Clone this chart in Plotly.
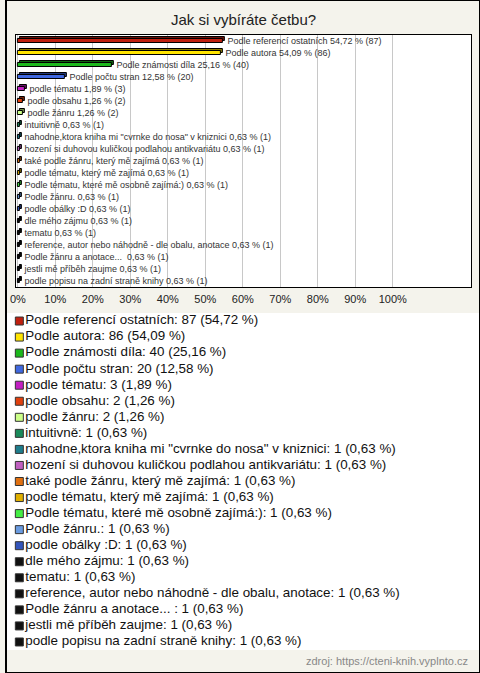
import plotly.graph_objects as go

TOTAL = 159
categories = [
    "Podle referencí ostatních",
    "Podle autora",
    "Podle známosti díla",
    "Podle počtu stran",
    "podle tématu",
    "podle obsahu",
    "podle žánru",
    "intuitivně",
    "nahodne,ktora kniha mi \"cvrnke do nosa\" v kniznici",
    "hození si duhovou kuličkou podlahou antikvariátu",
    "také podle žánru, který mě zajímá",
    "podle tématu, který mě zajímá",
    "Podle tématu, které mě osobně zajímá:)",
    "Podle žánru.",
    "podle obálky :D",
    "dle mého zájmu",
    "tematu",
    "reference, autor nebo náhodně - dle obalu, anotace",
    "Podle žánru a anotace... ",
    "jestli mě příběh zaujme",
    "podle popisu na zadní straně knihy",
]
counts = [87, 86, 40, 20, 3, 2, 2, 1, 1, 1, 1, 1, 1, 1, 1, 1, 1, 1, 1, 1, 1]
colors = [
    "#c0200f", "#ffe400", "#1cb81c", "#3f68e0", "#c21fc2", "#e0400e", "#ccff88",
    "#1a8a5a", "#1e7d8c", "#c060c0", "#e07010", "#e0b000", "#44ee44", "#6a9be0",
    "#3355bb", "#111111", "#111111", "#111111", "#111111", "#111111", "#111111",
]
tick_vals = [0, 10, 20, 30, 40, 50, 60, 70, 80, 90, 100]
tick_text = ["0%", "10%", "20%", "30%", "40%", "50%", "60%", "70%", "80%", "90%", "100%"]

pcts = [c / TOTAL * 100 for c in counts]
pct_txt = [f"{p:.2f}".replace(".", ",") for p in pcts]
idx = list(range(len(categories)))


def darker(h, f=0.55):
    h = h.lstrip("#")
    r, g, b = (int(h[i:i + 2], 16) for i in (0, 2, 4))
    return "#%02x%02x%02x" % (int(r * f), int(g * f), int(b * f))


bar_labels = ["\u00a0\u00a0" + f"{n} {t} % ({c})" for n, t, c in zip(categories, pct_txt, counts)]
legend_labels = [f"{n}: {c} ({t} %)" for n, t, c in zip(categories, pct_txt, counts)]

BG = "#f4f3ec"
FONT = "Liberation Sans, Arial, sans-serif"

fig = go.Figure()

# depth (3D back face)
fig.add_trace(go.Bar(
    x=pcts, y=idx, orientation="h", base=0.5, width=0.4, offset=-0.37,
    marker=dict(color=[darker(c) for c in colors], line=dict(color="#000000", width=1)),
    hoverinfo="skip", showlegend=False,
))
# front face
fig.add_trace(go.Bar(
    x=pcts, y=idx, orientation="h", width=0.4, offset=-0.2,
    marker=dict(color=colors, line=dict(color="#000000", width=1)),
    text=bar_labels, textposition="outside", constraintext="none", cliponaxis=False,
    textfont=dict(size=9, color="#333333", family=FONT),
    hoverinfo="skip", showlegend=False,
))

# custom legend
fig.add_trace(go.Scatter(
    x=[13.5] * len(idx), y=idx, mode="markers", xaxis="x2", yaxis="y2",
    marker=dict(symbol="square", size=8, color=colors, line=dict(color="#333333", width=1)),
    hoverinfo="skip", showlegend=False,
))
fig.add_trace(go.Scatter(
    x=[19.5] * len(idx), y=idx, mode="text", xaxis="x2", yaxis="y2",
    text=legend_labels, textposition="middle right",
    textfont=dict(size=13.4, color="#111111", family=FONT),
    hoverinfo="skip", showlegend=False, cliponaxis=False,
))

H = 673
fig.update_layout(
    width=480, height=H, autosize=False,
    margin=dict(l=0, r=0, t=0, b=0),
    paper_bgcolor=BG, plot_bgcolor="#ffffff",
    font=dict(family=FONT, color="#222222"),
    barmode="overlay",
    bargap=0,
    showlegend=False,
    xaxis=dict(
        domain=[10 / 480, 471 / 480], range=[-0.53, 120.9],
        tickvals=tick_vals, ticktext=tick_text,
        showgrid=True, gridcolor="#c8c8c8", gridwidth=1, zeroline=False,
        showline=True, linecolor="#000000", linewidth=1, mirror=True,
        ticks="", tickfont=dict(size=11, color="#222222"), ticklabelstandoff=2,
        fixedrange=True,
    ),
    yaxis=dict(
        domain=[1 - 287 / H, 1 - 35 / H], range=[20.5, -0.5],
        showticklabels=False, showgrid=False, zeroline=False,
        showline=True, linecolor="#000000", linewidth=1, mirror=True,
        ticks="", fixedrange=True,
    ),
    xaxis2=dict(domain=[0, 1], range=[0, 480], visible=False, fixedrange=True, anchor="y2"),
    yaxis2=dict(domain=[1 - 650 / H, 1 - 313 / H], range=[20.5, -0.5], visible=False,
                fixedrange=True, anchor="x2"),
    annotations=[
        dict(text="Jak si vybíráte četbu?", xref="paper", yref="paper",
             x=0.5, y=1 - 19 / H, xanchor="center", yanchor="middle",
             showarrow=False, font=dict(size=15, color="#222222", family=FONT)),
        dict(text="zdroj: https://cteni-knih.vyplnto.cz", xref="paper", yref="paper",
             x=470 / 480, y=1 - 661 / H, xanchor="right", yanchor="middle",
             showarrow=False, font=dict(size=11, color="#888888", family=FONT)),
    ],
    shapes=[
        dict(type="rect", xref="paper", yref="paper", x0=0, y0=0, x1=1, y1=1,
             line=dict(color="#000000", width=2), fillcolor="rgba(0,0,0,0)"),
    ],
)

fig.write_html(
    "out.html",
    config={"displayModeBar": False},
    post_script="document.body.style.margin='0';document.body.style.padding='0';"
                "document.body.style.overflow='hidden';",
)
